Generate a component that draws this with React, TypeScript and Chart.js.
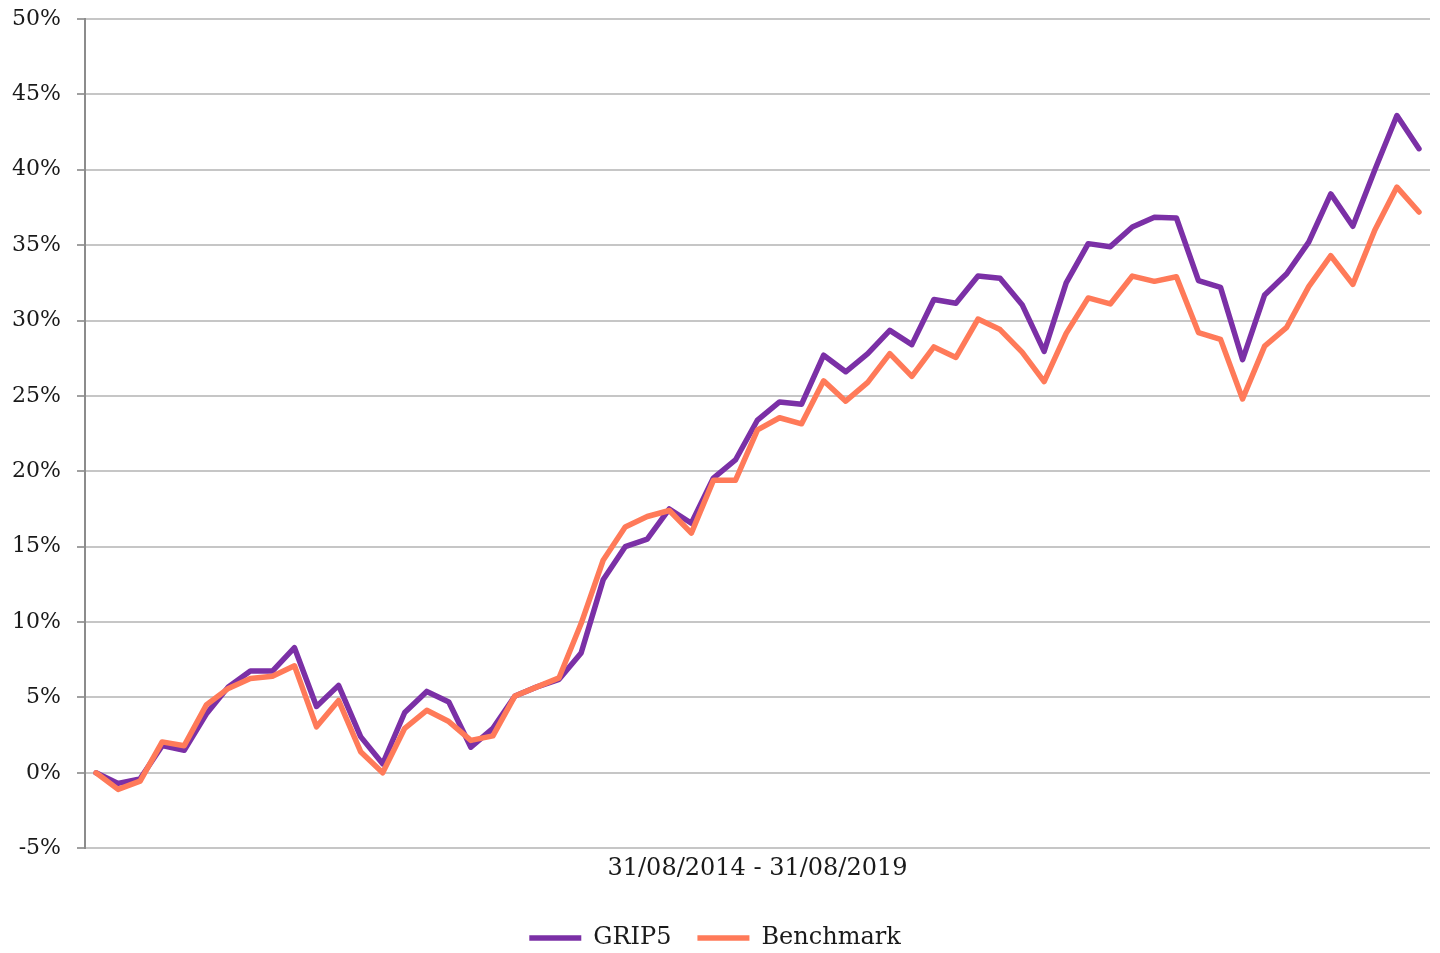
import React, { useEffect, useRef } from "react";
import { Chart, registerables } from "chart.js";

Chart.register(...registerables);

const months = [
  "2014-08", "2014-09", "2014-10", "2014-11", "2014-12",
  "2015-01", "2015-02", "2015-03", "2015-04", "2015-05", "2015-06", "2015-07", "2015-08", "2015-09", "2015-10", "2015-11", "2015-12",
  "2016-01", "2016-02", "2016-03", "2016-04", "2016-05", "2016-06", "2016-07", "2016-08", "2016-09", "2016-10", "2016-11", "2016-12",
  "2017-01", "2017-02", "2017-03", "2017-04", "2017-05", "2017-06", "2017-07", "2017-08", "2017-09", "2017-10", "2017-11", "2017-12",
  "2018-01", "2018-02", "2018-03", "2018-04", "2018-05", "2018-06", "2018-07", "2018-08", "2018-09", "2018-10", "2018-11", "2018-12",
  "2019-01", "2019-02", "2019-03", "2019-04", "2019-05", "2019-06", "2019-07", "2019-08",
];

const grip5 = [
  0, -0.7, -0.4, 1.8, 1.5, 3.9, 5.7, 6.75, 6.75, 8.3, 4.4, 5.8, 2.4, 0.6, 4.0, 5.4, 4.7, 1.7, 2.95, 5.1,
  5.7, 6.2, 7.95, 12.8, 15.0, 15.5, 17.5, 16.55, 19.55, 20.75, 23.4, 24.6, 24.45, 27.7, 26.6, 27.8, 29.35, 28.4, 31.4, 31.15,
  32.95, 32.8, 31.05, 27.95, 32.5, 35.1, 34.9, 36.2, 36.85, 36.8, 32.65, 32.2, 27.4, 31.7, 33.1, 35.2, 38.4, 36.25, 40.0, 43.6,
  41.4,
];

const benchmark = [
  0, -1.1, -0.55, 2.05, 1.8, 4.5, 5.6, 6.25, 6.4, 7.1, 3.05, 4.8, 1.4, 0, 2.95, 4.15, 3.4, 2.15, 2.45, 5.1,
  5.7, 6.3, 9.9, 14.1, 16.3, 17.0, 17.4, 15.9, 19.4, 19.4, 22.75, 23.55, 23.15, 26.0, 24.65, 25.9, 27.8, 26.3, 28.25, 27.55,
  30.1, 29.4, 27.9, 25.95, 29.15, 31.5, 31.1, 32.95, 32.6, 32.9, 29.2, 28.75, 24.8, 28.3, 29.55, 32.25, 34.3, 32.4, 36.0, 38.85,
  37.2,
];

const axisTitle = "31/08/2014 - 31/08/2019";
const seriesNames = ["GRIP5", "Benchmark"];
const yMin = -5;
const yMax = 50;
const yStep = 5;

const FONT = "'DejaVu Serif', serif";

export default function App() {
  const ref = useRef<HTMLCanvasElement | null>(null);

  useEffect(() => {
    if (!ref.current) return;
    const chart = new Chart(ref.current, {
      type: "line",
      data: {
        labels: months,
        datasets: [
          {
            label: seriesNames[0],
            data: grip5,
            borderColor: "#7B30A6",
            backgroundColor: "#7B30A6",
            borderWidth: 5.5,
            pointRadius: 0,
            tension: 0,
            borderCapStyle: "round",
            borderJoinStyle: "round",
            order: 1,
          },
          {
            label: seriesNames[1],
            data: benchmark,
            borderColor: "#FF7A59",
            backgroundColor: "#FF7A59",
            borderWidth: 5.5,
            pointRadius: 0,
            tension: 0,
            borderCapStyle: "round",
            borderJoinStyle: "round",
            order: 0,
          },
        ],
      },
      options: {
        animation: false,
        responsive: false,
        devicePixelRatio: 1,
        layout: { padding: { top: 19, right: 10, bottom: -7, left: 0 } },
        plugins: {
          tooltip: { enabled: false },
          legend: {
            position: "bottom",
            labels: {
              usePointStyle: true,
              pointStyle: "line",
              pointStyleWidth: 52,
              boxHeight: 4,
              boxWidth: 52,
              color: "#1a1a1a",
              font: { family: FONT, size: 24 },
              padding: 26,
              sort: (a: any, b: any) => a.datasetIndex - b.datasetIndex,
            },
          },
        },
        scales: {
          x: {
            offset: true,
            grid: { display: false, drawTicks: false },
            border: { display: false },
            ticks: { display: false },
            title: {
              display: true,
              text: axisTitle,
              color: "#1a1a1a",
              font: { family: FONT, size: 24 },
              padding: { top: 6, bottom: 17 },
            },
          },
          y: {
            min: yMin,
            max: yMax,
            afterFit: (s: any) => {
              s.width = 85;
              s.paddingTop = 0;
              s.paddingBottom = 0;
            },
            ticks: {
              stepSize: yStep,
              padding: 16,
              color: "#1a1a1a",
              font: { family: FONT, size: 22 },
              callback: (v: any) => `${v}%`,
            },
            grid: {
              color: "#c6c6c6",
              lineWidth: 2,
              tickLength: 8,
              tickColor: "#a0a0a0",
            },
            border: { display: true, color: "#8c8c8c", width: 2 },
          },
        },
      },
    });
    return () => chart.destroy();
  }, []);

  return (
    <div style={{ position: "absolute", left: 0, top: 0, width: 1440, height: 953, background: "#fff" }}>
      <canvas ref={ref} width={1440} height={953} />
    </div>
  );
}
